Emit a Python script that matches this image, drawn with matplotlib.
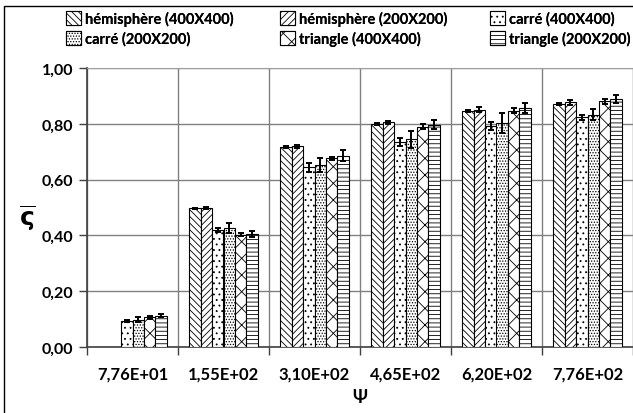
import numpy as np
import matplotlib
matplotlib.use("Agg")
from matplotlib import pyplot as plt
from matplotlib.patches import Rectangle

plt.rcParams['font.family'] = ['Lato', 'DejaVu Sans']
plt.rcParams['hatch.linewidth'] = 0.6

# data
categories = ['7,76E+01', '1,55E+02', '3,10E+02', '4,65E+02', '6,20E+02', '7,76E+02']
series = ['hémisphère (400X400)', 'hémisphère (200X200)', 'carré (400X400)',
          'carré (200X200)', 'triangle (400X400)', 'triangle (200X200)']
hem400 = [np.nan, 0.497, 0.718, 0.800, 0.847, 0.872]
hem200 = [np.nan, 0.498, 0.719, 0.805, 0.851, 0.877]
carre400 = [0.093, 0.420, 0.644, 0.734, 0.793, 0.823]
carre200 = [0.098, 0.425, 0.652, 0.745, 0.803, 0.833]
tri400 = [0.106, 0.403, 0.677, 0.790, 0.847, 0.880]
tri200 = [0.112, 0.405, 0.686, 0.797, 0.855, 0.889]
err_hem400 = [0, 0.003, 0.003, 0.003, 0.004, 0.004]
err_hem200 = [0, 0.004, 0.004, 0.005, 0.010, 0.010]
err_carre400 = [0.004, 0.008, 0.015, 0.015, 0.015, 0.008]
err_carre200 = [0.010, 0.018, 0.025, 0.030, 0.035, 0.020]
err_tri400 = [0.005, 0.004, 0.005, 0.010, 0.010, 0.008]
err_tri200 = [0.006, 0.012, 0.020, 0.015, 0.018, 0.015]

values = [hem400, hem200, carre400, carre200, tri400, tri200]
errors = [err_hem400, err_hem200, err_carre400, err_carre200, err_tri400, err_tri200]
hatches = ['\\\\\\\\\\', '/////', '...', '......', 'xx', '----']

fig = plt.figure(figsize=(6.33, 4.14), dpi=100)
ax = fig.add_axes([87/633, 66/414, 546/633, 279/414])

x = np.arange(len(categories))
width = 0.126
handles = []
for i, (vals, errs) in enumerate(zip(values, errors)):
    pos = x + (i - 2.5) * width
    b = ax.bar(pos, vals, width, color='white', edgecolor='black', linewidth=0.8,
               hatch=hatches[i], label=series[i], zorder=3)
    ax.errorbar(pos, vals, yerr=errs, fmt='none', ecolor='black', elinewidth=1.4,
                capsize=2.5, capthick=1.4, zorder=4)
    handles.append(b)

ax.set_xlim(-0.5, len(categories) - 0.5)
ax.set_ylim(0, 1.0)
yt = np.arange(0, 1.01, 0.2)
ax.set_yticks(yt)
ax.set_yticklabels([('%.2f' % v).replace('.', ',') for v in yt])
ax.set_xticks(np.arange(-0.5, len(categories), 1.0))
ax.set_xticklabels([])
ax.set_xticks(x, minor=True)
ax.set_xticklabels(categories, minor=True)
ax.tick_params(axis='x', which='major', length=6, width=1, color='#404040')
ax.tick_params(axis='x', which='minor', length=0, pad=13, labelsize=12)
ax.tick_params(axis='y', length=6, width=1, color='#404040', labelsize=11.5, pad=4)
for lab in ax.get_xticklabels(minor=True) + ax.get_yticklabels():
    lab.set_fontweight('bold')

ax.grid(True, which='major', color='#808080', linewidth=1, zorder=0)
ax.set_axisbelow(True)
for s in ['top', 'right']:
    ax.spines[s].set_color('#a0a0a0')
for s in ['left', 'bottom']:
    ax.spines[s].set_color('#404040')
    ax.spines[s].set_linewidth(1.2)

ax.set_xlabel('Ψ', fontsize=13, fontweight='bold', labelpad=5)
fig.text(27/633, 1 - 218/414, r'$\overline{\mathbf{\varsigma}}$', fontsize=18,
         ha='center', va='center')

# three legend columns, two rows each
col_x = [66, 280, 490]
for c in range(3):
    idx = [c, c + 3]
    leg = fig.legend([handles[i] for i in idx], [series[i] for i in idx], ncol=1,
                     loc='upper left', bbox_to_anchor=(col_x[c]/633, 1 - 12/414),
                     frameon=False, prop={'weight': 'bold', 'size': 10.5},
                     handlelength=1.05, handleheight=1.05, handletextpad=0.25,
                     labelspacing=0.35, borderpad=0, borderaxespad=0)
    fig.add_artist(leg)

fig.patches.append(Rectangle((4/633, -0.1), 1.1, 1 - 7/414 + 0.1, transform=fig.transFigure,
                             fill=False, edgecolor='black', linewidth=1))

fig.savefig('out.png', dpi=100)
